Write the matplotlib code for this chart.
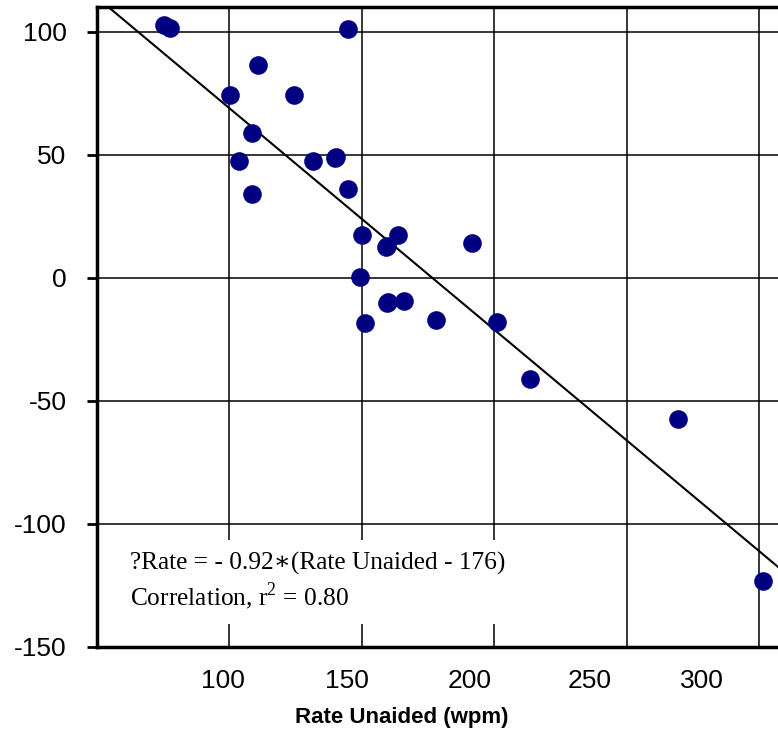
import numpy as np
import matplotlib
matplotlib.use("Agg")
import matplotlib.pyplot as plt

# points (wpm unaided, change in rate)
rate_unaided = [75.4, 77.6, 144.8, 110.8, 100.3, 124.4, 108.6, 103.7, 131.5,
                139.7, 140.2, 108.6, 144.7, 150.1, 163.7, 159.2, 159.6, 191.6,
                149.3, 159.4, 159.8, 165.9, 151.1, 178.0, 200.9, 213.5, 269.3,
                301.3]
rate_change = [102.6, 101.3, 101.0, 86.4, 74.3, 74.3, 58.8, 47.5, 47.5,
               48.5, 49.0, 34.2, 36.1, 17.4, 17.4, 12.6, 13.1, 14.2,
               0.5, -10.4, -9.8, -9.3, -18.3, -17.3, -18.0, -41.0, -57.2,
               -123.2]

# regression line as drawn
fit_slope = -0.90
fit_center = 176.5

xticks = [100, 150, 200, 250, 300]
yticks = [100, 50, 0, -50, -100, -150]
# tick labels sit a little left of their grid lines in the original
xlabel_pos = [97.4, 144.3, 190.8, 235.8, 278.3]

eq_text = "?Rate = - 0.92\u2217(Rate Unaided - 176)"
r2_text = "Correlation, r$^{2}$ = 0.80"

plt.rcParams['font.family'] = ['Liberation Sans', 'DejaVu Sans']
plt.rcParams['mathtext.fontset'] = 'custom'
plt.rcParams['mathtext.rm'] = 'Liberation Serif'

fig = plt.figure(figsize=(7.78, 7.36), dpi=100)
ax = fig.add_axes([97/778, 89/736, 681/778, 640/736])

ax.set_xlim(50, 307)
ax.set_ylim(-150, 110)

ax.scatter(rate_unaided, rate_change, s=180, color='#000080', zorder=4,
           linewidths=0)

xs = np.array([50, 310])
ax.plot(xs, fit_slope * (xs - fit_center), color='black', lw=1.5, zorder=3)

ax.set_xticks(xticks)
ax.set_xticklabels([])
ax.set_xticks(xlabel_pos, minor=True)
ax.set_xticklabels([str(t) for t in xticks], minor=True)
ax.tick_params(axis='x', which='both', length=0, labelsize=19, pad=16)
ax.set_yticks(yticks)
ax.set_yticklabels([str(t) for t in yticks])
ax.tick_params(axis='y', length=7, width=2, labelsize=19, pad=15)

ax.grid(True, which='major', color='black', lw=1.1)
ax.set_axisbelow(True)

for side in ['left', 'bottom', 'top']:
    ax.spines[side].set_linewidth(2.5)
ax.spines['right'].set_visible(False)

ax.text(0.048, 0.102, eq_text + "\n" + r2_text, transform=ax.transAxes,
        family=['Liberation Serif', 'DejaVu Serif'], fontsize=18.3,
        va='center', ha='left', linespacing=1.25, zorder=5,
        bbox=dict(facecolor='white', edgecolor='none', pad=9))

fig.text(401.5/778, 1 - 718/736, "Rate Unaided (wpm)", ha='center',
         va='center', fontsize=16, fontweight='bold')

fig.savefig("out.png", dpi=100)
